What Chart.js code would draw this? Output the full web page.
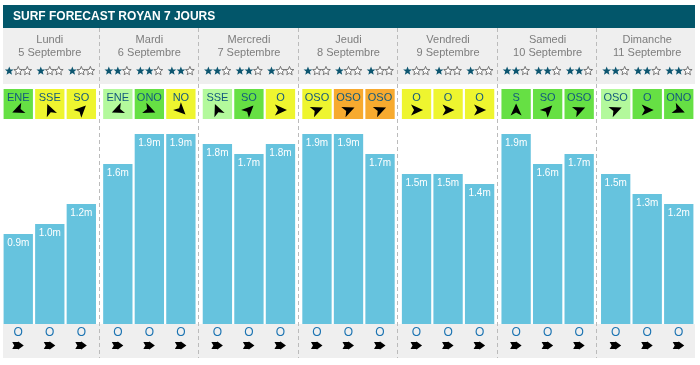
<!DOCTYPE html>
<html>
<head>
<meta charset="utf-8">
<script src="https://cdn.jsdelivr.net/npm/chart.js@4.4.0/dist/chart.umd.min.js"></script>
<style>
  body { margin: 0; background: #fff; }
</style>
</head>
<body>
<canvas id="surfChart" width="700" height="365"></canvas>
<script>
// ===== Data =====
const title = "SURF FORECAST ROYAN 7 JOURS";
const days = ["Lundi", "Mardi", "Mercredi", "Jeudi", "Vendredi", "Samedi", "Dimanche"];
const dates = ["5 Septembre", "6 Septembre", "7 Septembre", "8 Septembre", "9 Septembre", "10 Septembre", "11 Septembre"];

// wave height (m), three slots per day
const waveSlot1 = [0.9, 1.6, 1.8, 1.9, 1.5, 1.9, 1.5];
const waveSlot2 = [1.0, 1.9, 1.7, 1.9, 1.5, 1.6, 1.3];
const waveSlot3 = [1.2, 1.9, 1.8, 1.7, 1.4, 1.7, 1.2];

// per slot, day by day (day * 3 + slot)
const stars = [1, 1, 1, 2, 2, 2, 2, 2, 1, 1, 1, 1, 1, 1, 1, 2, 2, 2, 2, 2, 2];
const windDirs = ["ENE", "SSE", "SO", "ENE", "ONO", "NO", "SSE", "SO", "O", "OSO", "OSO", "OSO",
                  "O", "O", "O", "S", "SO", "OSO", "OSO", "O", "ONO"];
// 0 = light green, 1 = green, 2 = yellow, 3 = orange
const windLevel = [1, 2, 2, 0, 1, 2, 0, 1, 2, 2, 3, 3, 2, 2, 2, 1, 1, 1, 0, 1, 1];
const swellDirs = ["O", "O", "O", "O", "O", "O", "O", "O", "O", "O", "O", "O",
                   "O", "O", "O", "O", "O", "O", "O", "O", "O"];

// ===== Styles =====
const FONT = '"Liberation Sans", Arial, sans-serif';
const levelColors = ["#b3f99c", "#66e044", "#eef52f", "#f7aa2f"];
const compass = { N: 0, NNE: 22.5, NE: 45, ENE: 67.5, E: 90, ESE: 112.5, SE: 135, SSE: 157.5,
  S: 180, SSO: 202.5, SO: 225, OSO: 247.5, O: 270, ONO: 292.5, NO: 315, NNO: 337.5 };

function drawStar(ctx, x, y, filled) {
  ctx.beginPath();
  for (let k = 0; k < 10; k++) {
    const r = k % 2 === 0 ? 4.6 : 2.0;
    const a = -Math.PI / 2 + k * Math.PI / 5;
    ctx.lineTo(x + r * Math.cos(a), y + r * Math.sin(a));
  }
  ctx.closePath();
  if (filled) {
    ctx.fillStyle = "#0d5670";
    ctx.fill();
  } else {
    ctx.fillStyle = "#fff";
    ctx.fill();
    ctx.strokeStyle = "#5a5a5a";
    ctx.lineWidth = 0.8;
    ctx.stroke();
  }
}

// navigation arrow pointing where the wind goes
function drawWindArrow(ctx, x, y, deg) {
  ctx.save();
  ctx.translate(x, y);
  ctx.rotate(deg * Math.PI / 180);
  ctx.beginPath();
  ctx.moveTo(0, -6.5);
  ctx.lineTo(5.5, 5.5);
  ctx.lineTo(0, 2.5);
  ctx.lineTo(-5.5, 5.5);
  ctx.closePath();
  ctx.fillStyle = "#000";
  ctx.fill();
  ctx.restore();
}

function drawSwellArrow(ctx, x, y, deg) {
  ctx.save();
  ctx.translate(x, y);
  ctx.rotate((deg - 90) * Math.PI / 180);
  ctx.beginPath();
  ctx.moveTo(-6, -3.5);
  ctx.lineTo(-0.5, -3.5);
  ctx.lineTo(0, -4);
  ctx.lineTo(5.5, 0);
  ctx.lineTo(0, 4);
  ctx.lineTo(-0.5, 3.5);
  ctx.lineTo(-6, 3.5);
  ctx.lineTo(-4, 0);
  ctx.closePath();
  ctx.fillStyle = "#000";
  ctx.fill();
  ctx.restore();
}

// ===== Decorations =====
const surfDecor = {
  id: "surfDecor",
  beforeDraw(chart) {
    const ctx = chart.ctx;
    const area = chart.chartArea;
    ctx.save();
    ctx.fillStyle = "#fff";
    ctx.fillRect(0, 0, chart.width, chart.height);

    ctx.fillStyle = "#02566a";
    ctx.fillRect(3, 5, 692, 23);
    ctx.fillStyle = "#fff";
    ctx.font = "bold 12px " + FONT;
    ctx.textBaseline = "middle";
    ctx.textAlign = "left";
    ctx.fillText(title, 13, 17);

    ctx.fillStyle = "#efefef";
    ctx.fillRect(3, 28, 692, 56);
    ctx.fillRect(3, area.bottom, 692, 34);
    ctx.restore();
  },
  afterDatasetsDraw(chart) {
    const ctx = chart.ctx;
    const area = chart.chartArea;
    const xScale = chart.scales.x;
    ctx.save();
    ctx.textAlign = "center";
    ctx.textBaseline = "middle";

    // day headers
    days.forEach((d, i) => {
      const cx = xScale.getPixelForValue(i);
      ctx.fillStyle = "#7d7d7d";
      ctx.font = "11px " + FONT;
      ctx.fillText(d, cx, 40);
      ctx.fillText(dates[i], cx, 52.5);
    });

    chart.data.datasets.forEach((ds, s) => {
      const meta = chart.getDatasetMeta(s);
      meta.data.forEach((bar, i) => {
        const { x, y, width } = bar.getProps(["x", "y", "width"], true);
        const k = i * 3 + s;

        // value label
        ctx.fillStyle = "#fff";
        ctx.font = "10px " + FONT;
        ctx.fillText(ds.data[i].toFixed(1) + "m", x, y + 9.5);

        // stars
        for (let n = 0; n < 3; n++) {
          drawStar(ctx, x - 9 + n * 9, 71, n < stars[k]);
        }

        // wind box
        ctx.fillStyle = levelColors[windLevel[k]];
        ctx.fillRect(x - width / 2, 89, width, 30);
        ctx.fillStyle = "#13597d";
        ctx.font = "11px " + FONT;
        ctx.fillText(windDirs[k], x, 97.5);
        drawWindArrow(ctx, x, 110, compass[windDirs[k]] + 180);

        // swell
        ctx.fillStyle = "#1c74b2";
        ctx.font = "12px " + FONT;
        ctx.fillText(swellDirs[k], x, area.bottom + 8.5);
        drawSwellArrow(ctx, x, area.bottom + 21.5, compass[swellDirs[k]] + 180);
      });
    });

    // day separators
    ctx.strokeStyle = "#bbbbbb";
    ctx.lineWidth = 1;
    ctx.setLineDash([4, 3]);
    for (let i = 1; i < days.length; i++) {
      const sx = Math.round((xScale.getPixelForValue(i - 1) + xScale.getPixelForValue(i)) / 2) - 0.5;
      ctx.beginPath();
      ctx.moveTo(sx, 28);
      ctx.lineTo(sx, area.bottom + 34);
      ctx.stroke();
    }
    ctx.restore();
  }
};

// ===== Chart =====
const barStyle = {
  backgroundColor: "#66c3de",
  categoryPercentage: 0.95,
  barPercentage: 0.93
};

new Chart(document.getElementById("surfChart"), {
  type: "bar",
  data: {
    labels: days,
    datasets: [
      { label: "slot 1", data: waveSlot1, ...barStyle },
      { label: "slot 2", data: waveSlot2, ...barStyle },
      { label: "slot 3", data: waveSlot3, ...barStyle }
    ]
  },
  options: {
    responsive: false,
    devicePixelRatio: 1,
    animation: false,
    layout: { padding: { top: 124, bottom: 41, left: 0, right: 3 } },
    plugins: { legend: { display: false }, tooltip: { enabled: false } },
    scales: {
      x: { display: false },
      y: { display: false, min: 0, max: 2 }
    }
  },
  plugins: [surfDecor]
});
</script>
</body>
</html>
